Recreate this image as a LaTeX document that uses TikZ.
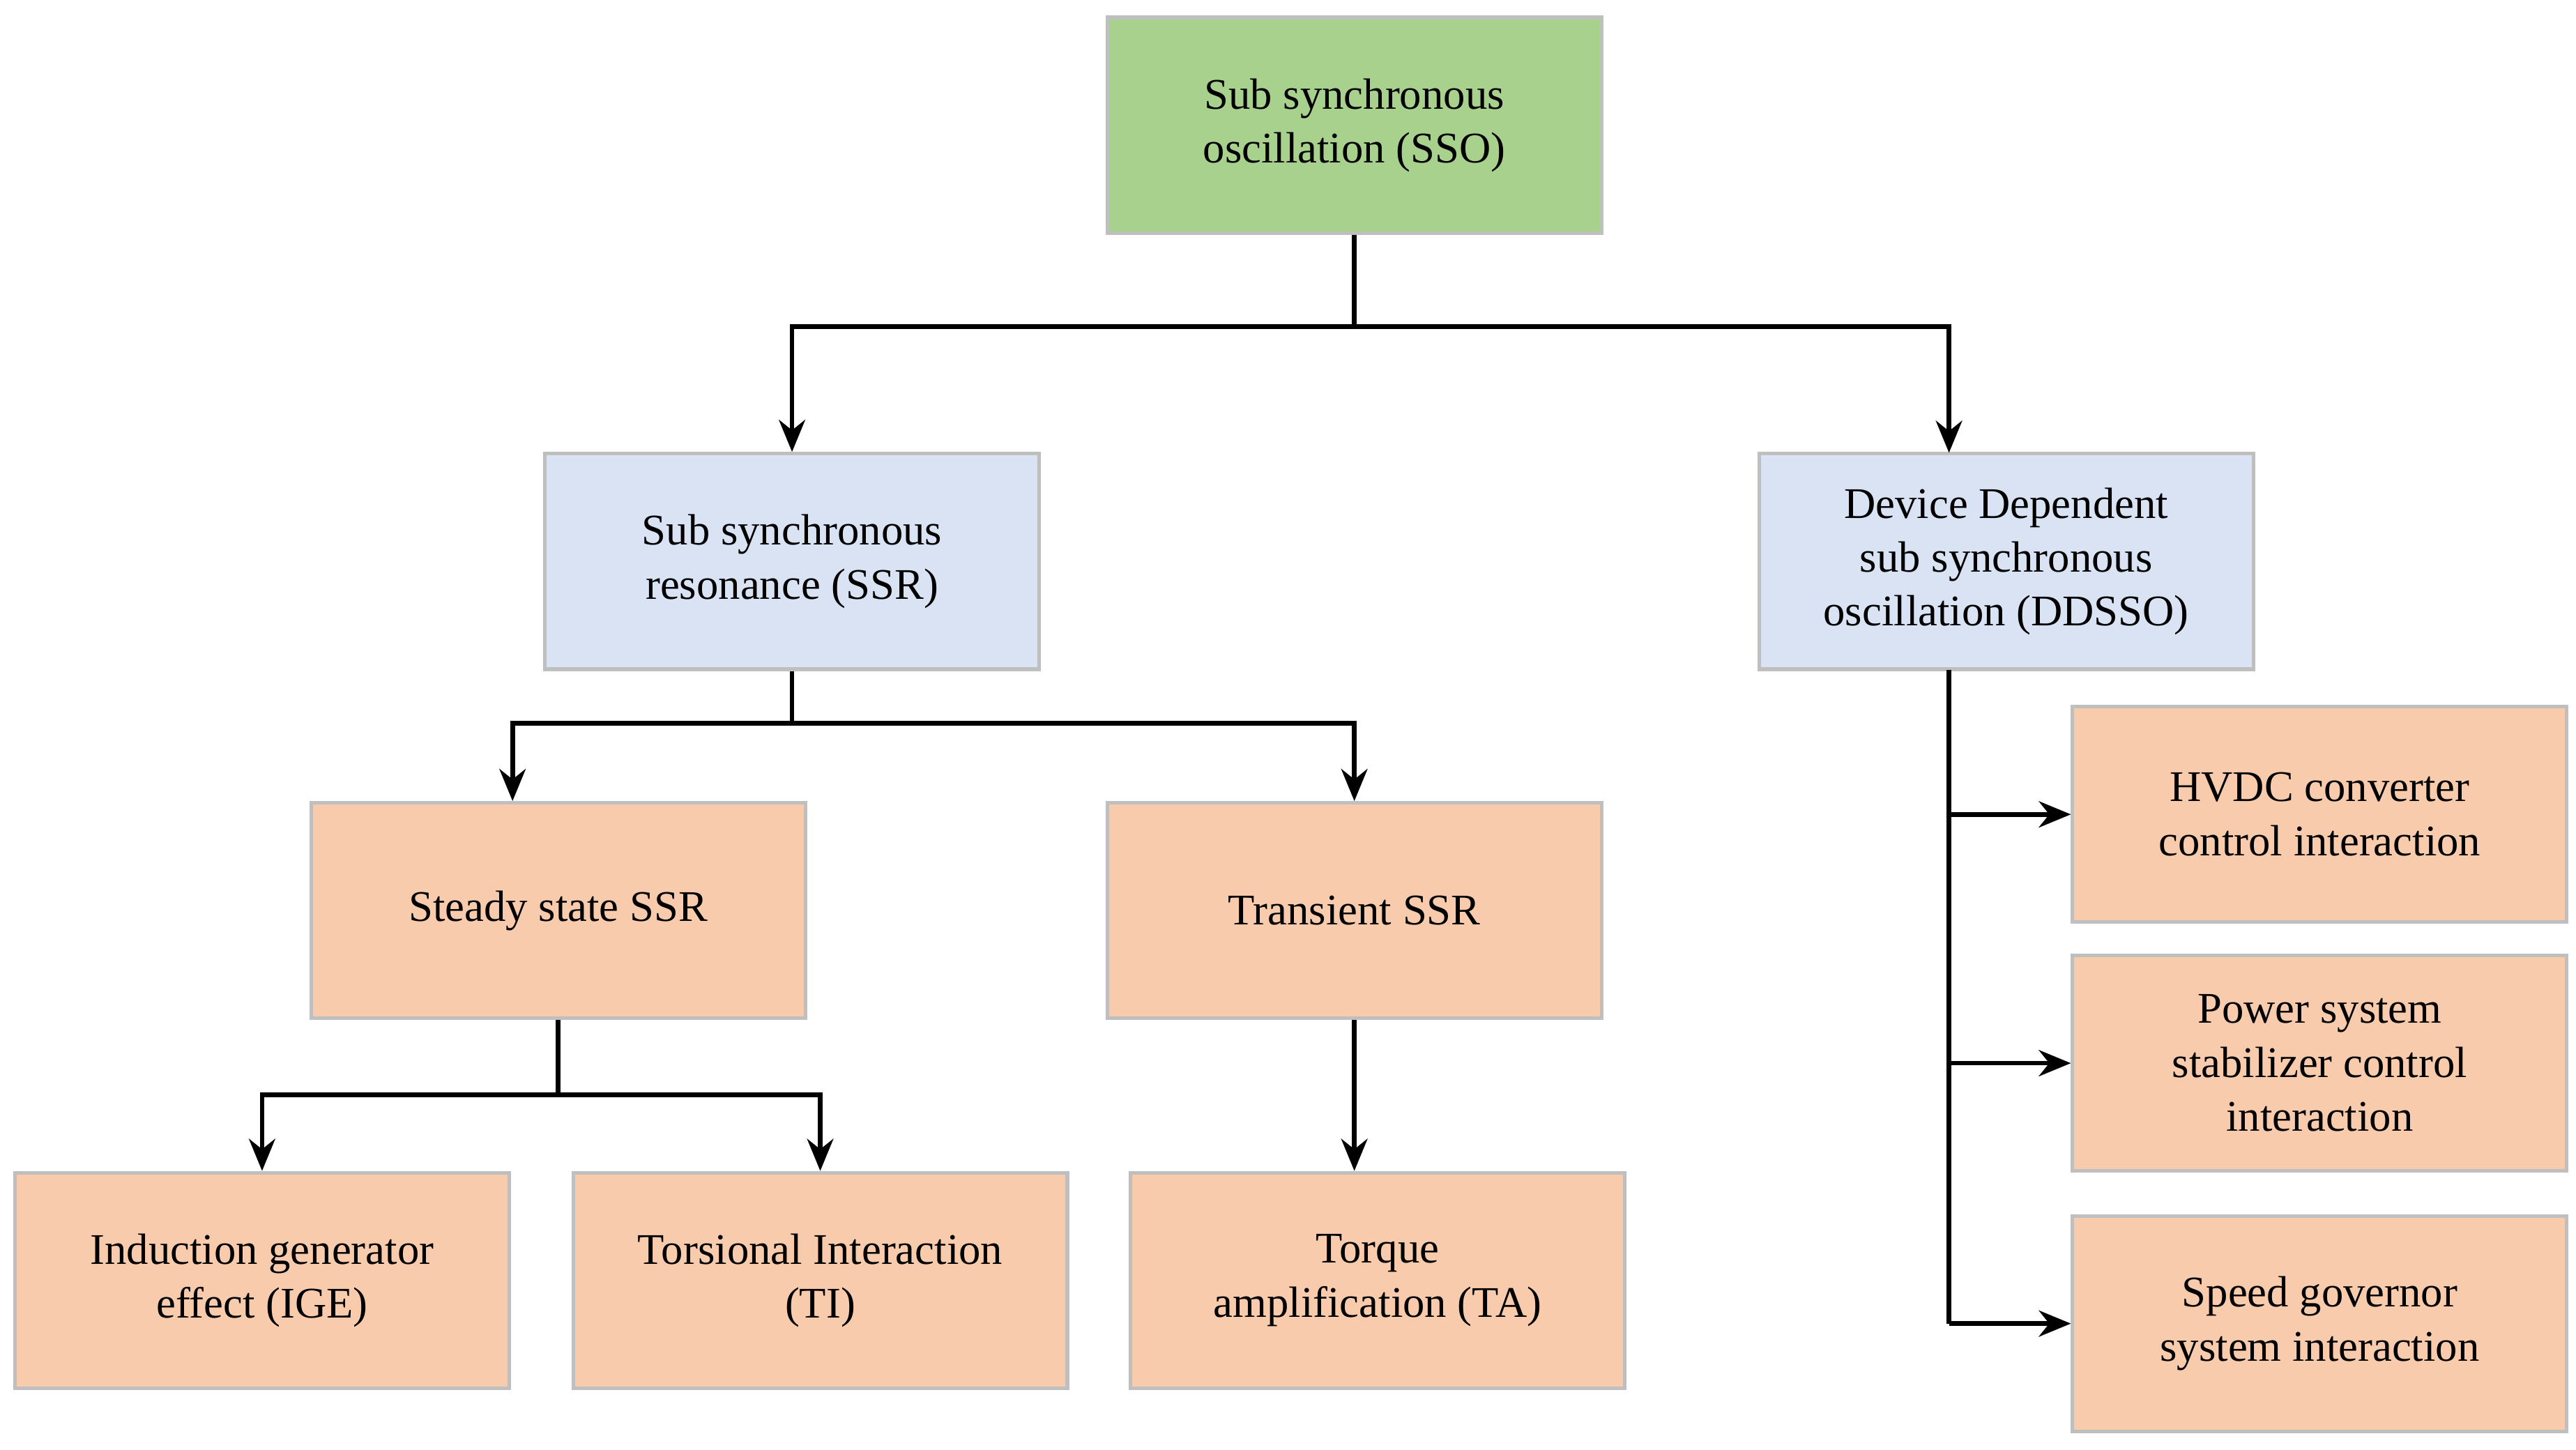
\documentclass[tikz,border=0pt]{standalone}
\usepackage{fontspec}
\setmainfont{Liberation Serif}
\usetikzlibrary{arrows.meta}
\definecolor{gr}{HTML}{A9D18E}
\definecolor{bl}{HTML}{DAE3F3}
\definecolor{or}{HTML}{F8CBAD}
\definecolor{bd}{HTML}{BFBFBF}
\begin{document}
\begin{tikzpicture}[x=0.02cm,y=-0.02cm,
 box/.style={draw=bd,line width=1.2pt,minimum width=5.96cm,minimum height=2.6cm,align=center,
   font=\fontsize{15}{18.5}\selectfont,inner sep=2pt},
 con/.style={line width=1.6pt},
 arr/.style={con,-{Stealth[length=11pt,width=9pt]}}]
\useasboundingbox (0,0) rectangle (1553,874);
\node[box,fill=gr] (sso) at (816.5,75.5) {Sub synchronous\\oscillation (SSO)};
\node[box,fill=bl] (ssr) at (477.5,338.5) {Sub synchronous\\resonance (SSR)};
\node[box,fill=bl] (dd) at (1209.5,338.5) {Device Dependent\\sub synchronous\\oscillation (DDSSO)};
\node[box,fill=or] (st) at (336.5,549) {Steady state SSR};
\node[box,fill=or] (tr) at (816.5,549) {Transient SSR};
\node[box,fill=or] (ige) at (158,772) {Induction generator\\effect (IGE)};
\node[box,fill=or] (ti) at (494.5,772) {Torsional Interaction\\(TI)};
\node[box,fill=or] (ta) at (830.5,772) {Torque\\amplification (TA)};
\node[box,fill=or] (hv) at (1398.5,491) {HVDC converter\\control interaction};
\node[box,fill=or] (ps) at (1398.5,641) {Power system\\stabilizer control\\interaction};
\node[box,fill=or] (sg) at (1398.5,798) {Speed governor\\system interaction};
\coordinate (j1) at (816.5,197);
\coordinate (j2) at (477.5,436);
\coordinate (j3) at (336.5,660);
\coordinate (a1) at (1175,491);
\coordinate (a2) at (1175,641);
\coordinate (a3) at (1175,798);
\draw[con] (sso.south) -- (j1);
\draw[arr] (j1) -| (ssr.north);
\draw[arr] (j1) -| (1175,273);
\draw[con] (ssr.south) -- (j2);
\draw[arr] (j2) -| (st.north -| 309,0);
\draw[arr] (j2) -| (tr.north);
\draw[con] (st.south) -- (j3);
\draw[arr] (j3) -| (ige.north);
\draw[arr] (j3) -| (ti.north);
\draw[arr] (tr.south) -- (tr.south |- ta.north);
\draw[con] (1175,404) -- (a3);
\draw[arr] (a1) -- (hv.west);
\draw[arr] (a2) -- (ps.west);
\draw[arr] (a3) -- (sg.west);
\end{tikzpicture}
\end{document}
